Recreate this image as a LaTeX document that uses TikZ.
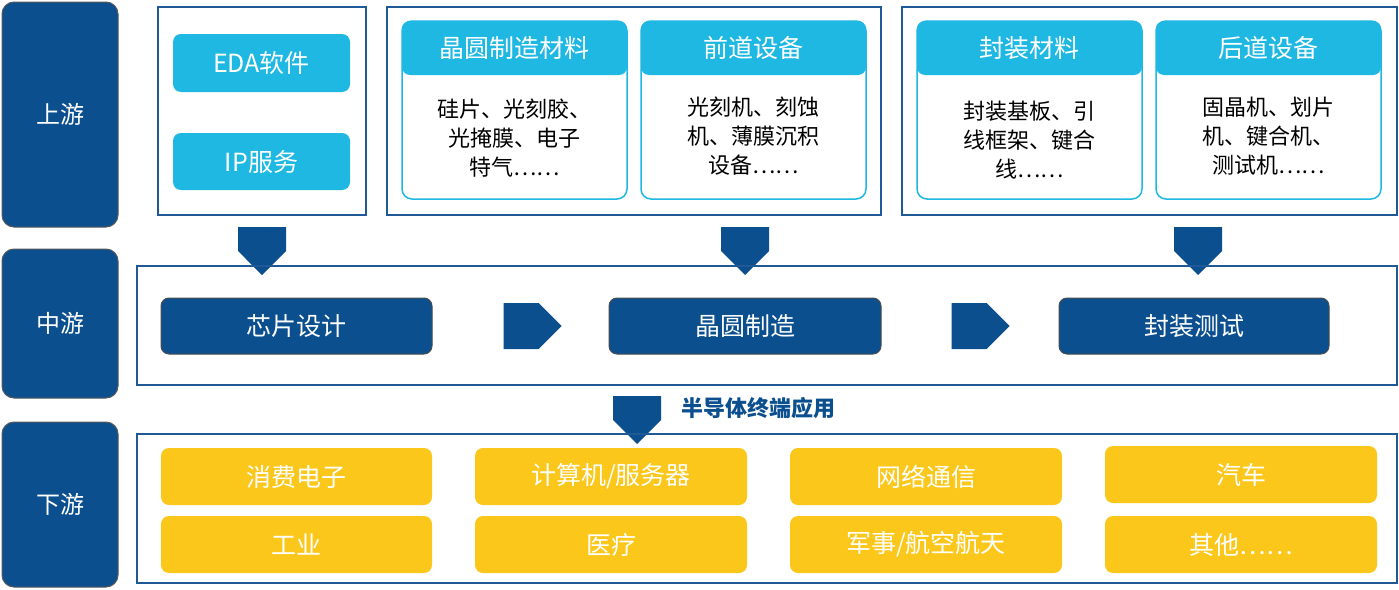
\documentclass[tikz,border=0pt]{standalone}
\usepackage{fontspec}
\setmainfont{Noto Sans CJK SC}
\usetikzlibrary{shapes.arrows}
\definecolor{dblue}{HTML}{0B4F8F}
\definecolor{cyanb}{HTML}{1EB8E3}
\definecolor{yel}{HTML}{FCC71B}
\definecolor{bord}{HTML}{1F5A96}
\tikzset{
 lab/.style={draw=gray!70!black,line width=1pt,fill=dblue,rounded corners=12pt,text=white,font=\fontsize{24}{28}\selectfont},
 frame/.style={draw=bord,line width=1.3pt},
 btn/.style={fill=cyanb,rounded corners=8pt,text=white,font=\fontsize{25}{30}\selectfont},
 card/.style={draw=cyanb,line width=1.5pt,rounded corners=10pt},
 body/.style={align=center,font=\fontsize{22}{29}\selectfont,text=black},
 mid/.style={fill=dblue,draw=gray!60!black,line width=1pt,rounded corners=8pt,text=white,font=\fontsize{25}{30}\selectfont},
 yb/.style={fill=yel,rounded corners=8pt,text=white,font=\fontsize{25}{30}\selectfont},
 darr/.style={single arrow,fill=dblue,shape border rotate=270,minimum height=48pt,minimum width=48pt,single arrow head extend=0pt,inner sep=6pt,single arrow tip angle=90},
 rarr/.style={single arrow,fill=dblue,minimum height=58pt,minimum width=46pt,inner sep=7pt,single arrow head extend=0pt},
}
\begin{document}
\begin{tikzpicture}[x=1pt,y=-1pt]
\useasboundingbox (0,0) rectangle (1399,589);
\fill[white] (0,0) rectangle (1399,589);
\newcommand\rbox[6]{\node[#5,minimum width=#3-#1,minimum height=#4-#2,inner sep=0] (#6) at ({(#1+#3)/2},{(#2+#4)/2}) {};}
% left labels
\node[lab,minimum width=116pt,minimum height=225pt] (up) at (60,114.5) {上游};
\node[lab,minimum width=116pt,minimum height=149pt] (mi) at (60,323.5) {中游};
\node[lab,minimum width=116pt,minimum height=165pt] (dn) at (60,504.5) {下游};
% upstream frames
\rbox{158}{7}{366}{215}{frame}{f1}
\rbox{387}{7}{881}{215}{frame}{f2}
\rbox{902}{7}{1397}{215}{frame}{f3}
\node[btn,minimum width=177pt,minimum height=58pt] (eda) at (261.5,63) {EDA软件};
\node[btn,minimum width=177pt,minimum height=57pt] (ip) at (261.5,161.5) {IP服务};
% cards
\newcommand\card[5]{%
 \node[card,minimum width=225pt,minimum height=178pt] (#5) at (#1+112.5,110) {};
 \node[btn,minimum width=225pt,minimum height=54pt] (#5h) at (#1+112.5,48) {#2};
 \node[body] (#5b) at (#1+112.5,#4) {#3};}
\card{402}{晶圆制造材料}{硅片、光刻胶、\\光掩膜、电子\\特气……}{138}{c1}
\card{641}{前道设备}{光刻机、刻蚀\\机、薄膜沉积\\设备……}{136}{c2}
\card{917}{封装材料}{封装基板、引\\线框架、键合\\线……}{140}{c3}
\card{1156}{后道设备}{固晶机、划片\\机、键合机、\\测试机……}{136}{c4}
% down arrows
\node[darr] (a1) at (262,239) {};
\node[darr] (a2) at (745,239) {};
\node[darr] (a3) at (1198,239) {};
% middle
\rbox{137}{266}{1397}{385}{frame}{mf}
\node[mid,minimum width=271pt,minimum height=56pt] (m1) at (296.5,326) {芯片设计};
\node[mid,minimum width=272pt,minimum height=56pt] (m2) at (745,326) {晶圆制造};
\node[mid,minimum width=270pt,minimum height=56pt] (m3) at (1194,326) {封装测试};
\node[rarr] (r1) at (521,326) {};
\node[rarr] (r2) at (969,326) {};
\node[darr] (a4) at (637,408) {};
\node[font=\bfseries\fontsize{22}{26}\selectfont,text=dblue,anchor=west] (t) at (678,408) {半导体终端应用};
% bottom
\rbox{137}{434}{1397}{583}{frame}{bf}
\node[yb,minimum width=271pt,minimum height=57pt] (y1) at (296.5,476.5) {消费电子};
\node[yb,minimum width=272pt,minimum height=57pt] (y2) at (611,476.5) {计算机/服务器};
\node[yb,minimum width=272pt,minimum height=57pt] (y3) at (926,476.5) {网络通信};
\node[yb,minimum width=272pt,minimum height=57pt] (y4) at (1241,474.5) {汽车};
\node[yb,minimum width=271pt,minimum height=57pt] (y5) at (296.5,544.5) {工业};
\node[yb,minimum width=272pt,minimum height=57pt] (y6) at (611,544.5) {医疗};
\node[yb,minimum width=272pt,minimum height=57pt] (y7) at (926,544.5) {军事/航空航天};
\node[yb,minimum width=272pt,minimum height=57pt] (y8) at (1241,544.5) {其他……};
\end{tikzpicture}
\end{document}
